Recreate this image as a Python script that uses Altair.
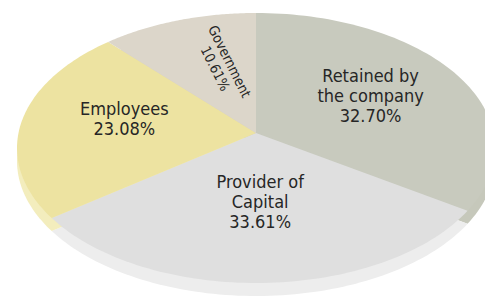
import altair as alt
import pandas as pd

# ---- data ----
categories = ["Retained by the company", "Provider of Capital", "Employees", "Government"]
label_lines = ["Retained by\nthe company", "Provider of\nCapital", "Employees", "Government"]
values = [32.70, 33.61, 23.08, 10.61]

# ---- styling ----
top_colors = ["#c8cabe", "#dfdfdf", "#ede3a1", "#dcd6ca"]
side_colors = ["#c6c8bb", "#ededed", "#f3edbd", "#d6d0c4"]

df = pd.DataFrame({
    "category": categories,
    "label": label_lines,
    "value": values,
    "idx": list(range(len(categories))),
})

W, H = 477, 288
CX, CY, RX, RY = 256, 148, 239, 135   # ellipse of the pie's top face (page px)
AX, AY = 256, 133                     # apex of the slices (perspective)
N = 80
DEPTH = 13

xscale = alt.Scale(domain=[8, 8 + W])
yscale = alt.Scale(domain=[8, 8 + H], reverse=True)

base = alt.Chart(df).transform_joinaggregate(
    total="sum(value)"
).transform_window(
    cum="sum(value)", sort=[alt.SortField("idx")], frame=[None, 0]
).transform_calculate(
    a0="2*PI*(datum.cum - datum.value)/datum.total"
).transform_calculate(
    a1="2*PI*datum.cum/datum.total"
)

poly = base.transform_calculate(
    steps=f"sequence(0, {N + 3})"
).transform_flatten(
    ["steps"], as_=["k"]
).transform_calculate(
    t=f"clamp((datum.k - 1)/{N}, 0, 1)"
).transform_calculate(
    ang="datum.a0 + (datum.a1 - datum.a0)*datum.t"
).transform_calculate(
    isApex=f"datum.k == 0 || datum.k == {N + 2}"
).transform_calculate(
    px=f"datum.isApex ? {AX} : {CX} + {RX}*sin(datum.ang)"
).transform_calculate(
    py=f"datum.isApex ? {AY} : {CY} - {RY}*cos(datum.ang)"
).transform_calculate(
    pys=f"datum.py + {DEPTH}"
)

side = poly.mark_line(filled=True, interpolate="linear").encode(
    x=alt.X("px:Q", scale=xscale, axis=None),
    y=alt.Y("pys:Q", scale=yscale, axis=None),
    color=alt.Color("category:N", scale=alt.Scale(domain=categories, range=side_colors), legend=None),
    detail="category:N",
    order="k:Q",
)

top = poly.mark_line(filled=True, interpolate="linear").encode(
    x=alt.X("px:Q", scale=xscale, axis=None),
    y=alt.Y("py:Q", scale=yscale, axis=None),
    color=alt.Color("category:N", scale=alt.Scale(domain=categories, range=top_colors), legend=None),
    detail="category:N",
    order="k:Q",
)

labels = base.transform_calculate(
    mid="(datum.a0 + datum.a1)/2"
).transform_calculate(
    small="datum.value/datum.total < 0.15"
).transform_calculate(
    fx="datum.small ? 0.44 : 0.56"
).transform_calculate(
    fy="datum.small ? 0.53 : 0.52"
).transform_calculate(
    lh="datum.small ? 16 : 20"
).transform_calculate(
    cx0=f"{AX} + datum.fx*{RX}*sin(datum.mid)"
).transform_calculate(
    cy0=f"{AY} - datum.fy*{RY}*cos(datum.mid)"
).transform_calculate(
    txt="datum.label + '\\n' + format(datum.value, '.2f') + '%'"
).transform_calculate(
    nl="length(split(datum.txt, '\\n'))"
).transform_calculate(
    rot=f"datum.small ? atan2({RY}*cos(datum.mid), -{RX}*sin(datum.mid))*180/PI + 5 : 0"
).transform_calculate(
    hh="(datum.nl - 1)*datum.lh/2"
).transform_calculate(
    lx="datum.cx0 + sin(datum.rot*PI/180)*datum.hh"
).transform_calculate(
    ly="datum.cy0 - cos(datum.rot*PI/180)*datum.hh"
)

big_labels = labels.transform_filter("!datum.small").mark_text(
    lineBreak="\n", font="DejaVu Sans Condensed", fontSize=18, color="#262626",
    lineHeight=20, baseline="middle", align="center",
).encode(
    x=alt.X("lx:Q", scale=xscale, axis=None),
    y=alt.Y("ly:Q", scale=yscale, axis=None),
    text="txt:N",
)

small_labels = labels.transform_filter("datum.small").mark_text(
    lineBreak="\n", font="DejaVu Sans Condensed", fontSize=14, color="#262626",
    lineHeight=16, baseline="middle", align="center",
).encode(
    x=alt.X("lx:Q", scale=xscale, axis=None),
    y=alt.Y("ly:Q", scale=yscale, axis=None),
    text="txt:N",
    angle=alt.Angle("rot:Q", scale=None),
)

chart = alt.layer(side, top, big_labels, small_labels).resolve_scale(color="independent").properties(
    width=W, height=H, padding=0, autosize="none", background="#ffffff"
).configure_view(stroke=None)

chart.save("out.html", embed_options={"renderer": "svg", "actions": False})
